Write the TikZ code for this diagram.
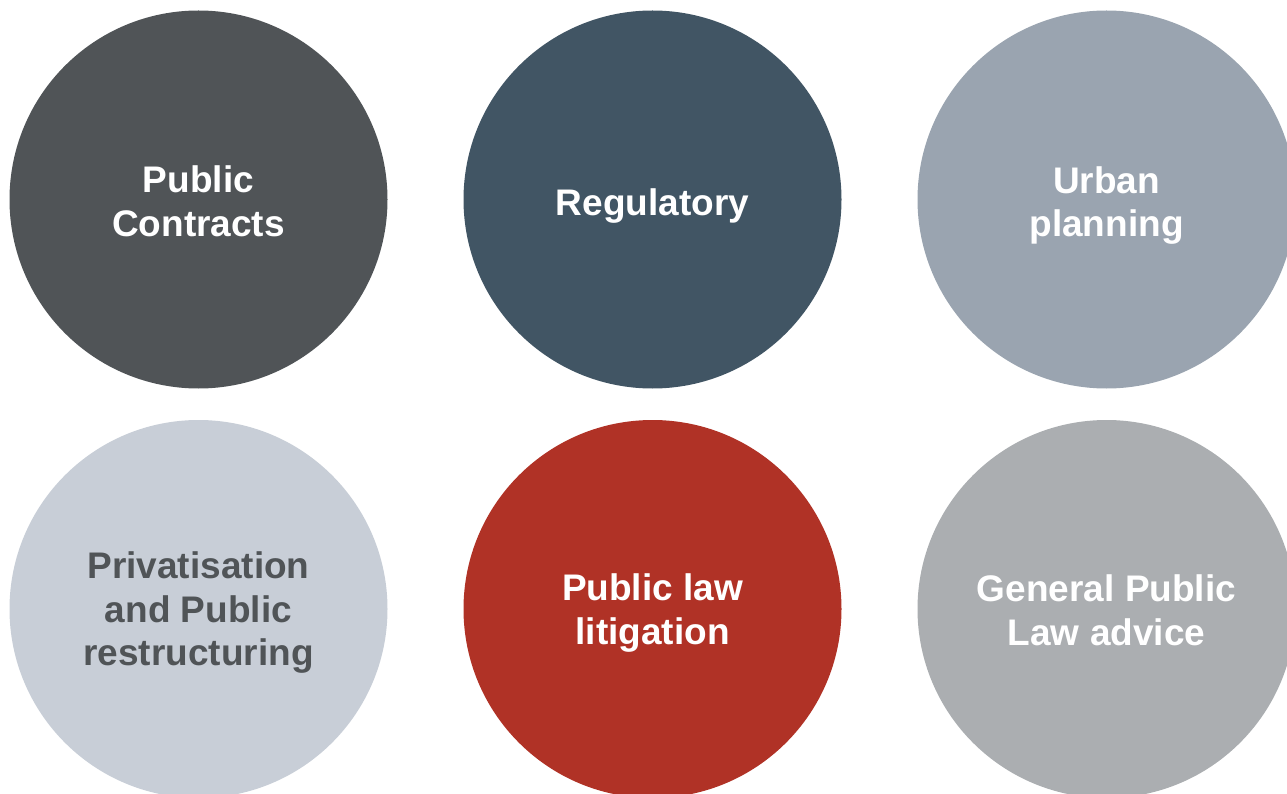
\documentclass[tikz,border=0pt]{standalone}
\usepackage{fontspec}
\setmainfont{Liberation Sans}
\definecolor{cA}{HTML}{505457}
\definecolor{cB}{HTML}{415564}
\definecolor{cC}{HTML}{9AA4B0}
\definecolor{cD}{HTML}{C8CED7}
\definecolor{cE}{HTML}{B03226}
\definecolor{cF}{HTML}{ABAEB1}
\begin{document}
\begin{tikzpicture}[x=1pt,y=-1pt,
  disc/.style={circle,minimum size=378pt,inner sep=0pt},
  lbl/.style={align=center,font=\fontsize{37}{43.5}\selectfont\bfseries,text=white,inner sep=0pt}]
\useasboundingbox (0,0) rectangle (1287,794);
\begin{scope}
\clip (0,0) rectangle (1287,794);
\node[disc,fill=cA] (c1) at (198.5,199.5) {};
\node[disc,fill=cB] (c2) at (652.5,199.5) {};
\node[disc,fill=cC] (c3) at (1106.5,199.5) {};
\node[disc,fill=cD] (c4) at (198.5,609) {};
\node[disc,fill=cE] (c5) at (652.5,609) {};
\node[disc,fill=cF] (c6) at (1106.5,609) {};
\end{scope}
\node[lbl] (t1) at ([yshift=-2pt]c1) {Public\\Contracts};
\node[lbl] (t2) at ([yshift=-6.5pt]c2) {Regulatory};
\node[lbl] (t3) at ([yshift=-6pt]c3) {Urban\\planning};
\node[lbl,text=cA] (t4) at ([yshift=-4pt]c4) {Privatisation\\and Public\\restructuring};
\node[lbl] (t5) at ([yshift=-4pt]c5) {Public law\\litigation};
\node[lbl] (t6) at ([yshift=-1.5pt]c6) {General Public\\Law advice};
\end{tikzpicture}
\end{document}
